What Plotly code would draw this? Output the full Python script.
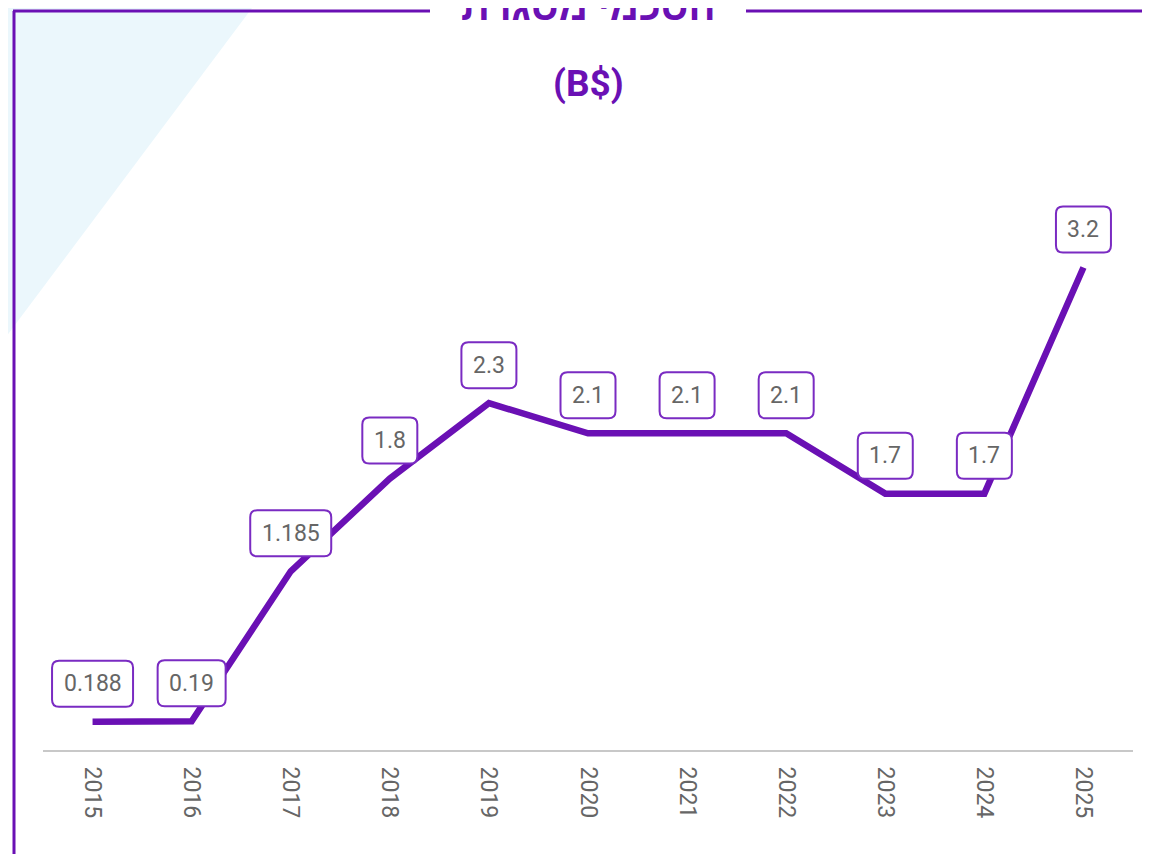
import plotly.graph_objects as go

years = ["2015", "2016", "2017", "2018", "2019", "2020", "2021", "2022", "2023", "2024", "2025"]
values = [0.188, 0.19, 1.185, 1.8, 2.3, 2.1, 2.1, 2.1, 1.7, 1.7, 3.2]
labels = ["0.188", "0.19", "1.185", "1.8", "2.3", "2.1", "2.1", "2.1", "1.7", "1.7", "3.2"]
title_text = "הסכמי מסגרת"
subtitle_text = "(B$)"

OFF8 = 8  # page body margin
W, H = 1150, 854
ML, MR, MT, MB = 35, 25, 142, 112
PW, PH = W - ML - MR, H - MT - MB

PURPLE = "#6a10b4"
BOX_PURPLE = "#7a2bc2"
GRAY_TXT = "#666666"
FONT = "Roboto, Arial, DejaVu Sans, sans-serif"


def px(xp):
    return (xp - OFF8 - ML) / PW


def py(yp):
    return (H - MB - (yp - OFF8)) / PH


fig = go.Figure()
fig.add_trace(go.Scatter(
    x=years, y=values, mode="lines",
    line=dict(color=PURPLE, width=6.5),
    hoverinfo="skip", showlegend=False,
))

shapes = []
shapes.append(dict(
    type="path", xref="paper", yref="paper", layer="below",
    path=f"M {px(0)},{py(0)} L {px(258)},{py(0)} L {px(0)},{py(345)} Z",
    fillcolor="#ebf7fc", line=dict(width=0),
))
frame = dict(color=PURPLE, width=3)
shapes.append(dict(type="line", xref="paper", yref="paper",
                   x0=px(14), x1=px(14), y0=py(11), y1=py(870), line=frame))
shapes.append(dict(type="line", xref="paper", yref="paper",
                   x0=px(13), x1=px(430), y0=py(11), y1=py(11), line=frame))
shapes.append(dict(type="line", xref="paper", yref="paper",
                   x0=px(746), x1=px(1170), y0=py(11), y1=py(11), line=frame))

annotations = []
OFF = 38
HH = 23
R = 7
for i, (yr, v, t) in enumerate(zip(years, values, labels)):
    nd = sum(c.isdigit() for c in t)
    ndot = t.count(".")
    w = 13 * nd + 6 * ndot + 23
    hw = w / 2
    x0, x1 = -hw, hw
    y0, y1 = OFF - HH, OFF + HH
    path = (f"M {x0 + R},{y0} L {x1 - R},{y0} Q {x1},{y0} {x1},{y0 + R} "
            f"L {x1},{y1 - R} Q {x1},{y1} {x1 - R},{y1} "
            f"L {x0 + R},{y1} Q {x0},{y1} {x0},{y1 - R} "
            f"L {x0},{y0 + R} Q {x0},{y0} {x0 + R},{y0} Z")
    shapes.append(dict(
        type="path", xref="x", yref="y", xsizemode="pixel", ysizemode="pixel",
        xanchor=i, yanchor=v, path=path, layer="above",
        fillcolor="white", line=dict(color=BOX_PURPLE, width=2),
    ))
    annotations.append(dict(
        x=i, y=v, xref="x", yref="y", text=t, showarrow=False,
        yshift=OFF, font=dict(family=FONT, size=23, color=GRAY_TXT),
    ))

annotations.append(dict(
    x=px(588), y=py(6), xref="paper", yref="paper", text=f"<b>{title_text}</b>",
    showarrow=False, xanchor="center", yanchor="middle",
    font=dict(family=FONT, size=40, color=PURPLE),
))
annotations.append(dict(
    x=px(588), y=py(83), xref="paper", yref="paper", text=f"<b>{subtitle_text}</b>",
    showarrow=False, xanchor="center", yanchor="middle",
    font=dict(family=FONT, size=37, color=PURPLE),
))

fig.update_layout(
    width=W, height=H,
    margin=dict(l=ML, r=MR, t=MT, b=MB, pad=0),
    paper_bgcolor="white", plot_bgcolor="white",
    shapes=shapes, annotations=annotations,
    xaxis=dict(
        type="category", range=[-0.5, 10.5], showgrid=False, zeroline=False,
        showline=True, linecolor="#c8c8c8", linewidth=2,
        tickangle=90, ticks="", ticklabelstandoff=10,
        tickfont=dict(family=FONT, size=23, color=GRAY_TXT),
    ),
    yaxis=dict(
        range=[0, PH / 150.8], showgrid=False, zeroline=False,
        showticklabels=False, showline=False,
    ),
    showlegend=False,
)

fig.write_html("out.html")
